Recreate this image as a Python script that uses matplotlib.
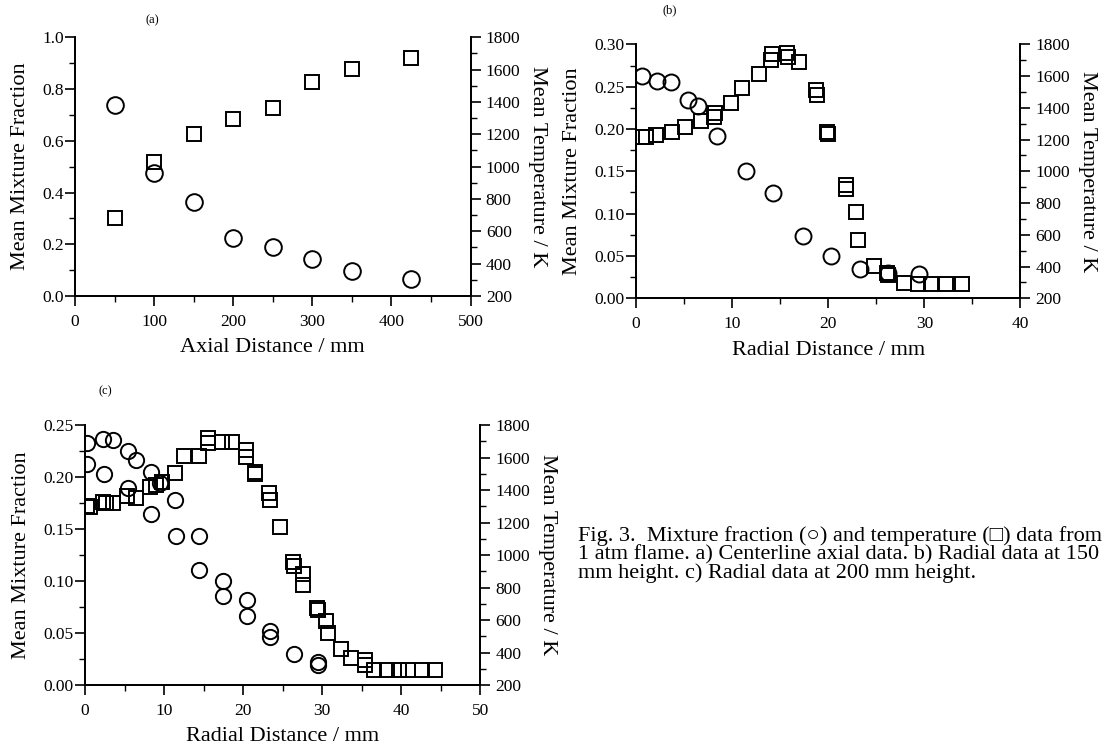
import matplotlib
matplotlib.use("Agg")
import matplotlib.pyplot as plt
from matplotlib.ticker import MultipleLocator

plt.rcParams['font.family'] = ['Liberation Serif', 'DejaVu Serif']

# (a) centerline axial data
a_x = [50, 100, 150, 200, 250, 300, 350, 425]
a_mix = [0.738, 0.474, 0.362, 0.223, 0.188, 0.144, 0.095, 0.066]
a_temp = [680, 1031, 1200, 1295, 1361, 1526, 1602, 1674]

# (b) radial data at 150 mm
b_mix_x = [0.6, 2.2, 3.6, 5.4, 6.5, 8.4, 11.4, 14.3, 17.4, 20.3, 23.3, 26.2, 29.4]
b_mix = [0.263, 0.257, 0.256, 0.234, 0.227, 0.192, 0.150, 0.124, 0.074, 0.050, 0.035, 0.030, 0.029]
b_temp_x = [0.6, 1.0, 2.1, 3.7, 5.1, 6.8, 8.1, 8.2, 9.9, 11.0, 12.8, 14.0, 14.1, 15.7, 15.8,
            17.0, 18.7, 18.8, 19.9, 20.0, 21.8, 21.9, 22.9, 23.1, 24.8, 26.1, 26.2, 27.9,
            29.3, 30.7, 32.3, 33.9]
b_temp = [1214, 1214, 1229, 1250, 1277, 1319, 1340, 1370, 1432, 1523, 1613, 1701, 1737, 1743, 1720,
          1691, 1512, 1481, 1250, 1235, 917, 886, 742, 569, 405, 362, 348, 299,
          291, 291, 291, 291]

# (c) radial data at 200 mm
c_mix_x = [0.3, 0.3, 2.3, 2.4, 3.5, 5.4, 5.4, 6.5, 8.4, 8.4, 9.5, 11.4, 11.5, 14.4, 14.4,
           17.5, 17.5, 20.5, 20.5, 23.4, 23.4, 26.4, 29.5, 29.5]
c_mix = [0.233, 0.213, 0.237, 0.203, 0.236, 0.225, 0.189, 0.216, 0.205, 0.164, 0.194, 0.178, 0.143,
         0.143, 0.111, 0.100, 0.086, 0.082, 0.066, 0.052, 0.046, 0.030, 0.022, 0.019]
c_temp_x = [0.3, 0.6, 2.3, 2.7, 3.6, 5.3, 6.5, 8.2, 9.0, 9.7, 11.4, 12.5, 14.4, 15.6, 15.6,
            17.3, 18.6, 20.3, 20.3, 21.5, 21.5, 23.3, 23.4, 24.6, 26.3, 26.4, 27.6, 27.6,
            29.3, 29.5, 30.5, 30.7, 32.4, 33.6, 35.4, 35.4, 36.5, 38.2, 39.7, 40.9, 42.6, 44.3]
c_temp = [1301, 1295, 1328, 1322, 1318, 1363, 1349, 1420, 1431, 1451, 1507, 1609, 1609, 1718, 1687,
          1697, 1697, 1646, 1605, 1513, 1500, 1379, 1338, 1172, 959, 932, 883, 815,
          672, 662, 596, 518, 419, 364, 354, 323, 292, 292, 292, 292, 292, 292]

caption = ["Fig. 3.  Mixture fraction (\u25CB) and temperature (\u25A1) data from",
           "1 atm flame. a) Centerline axial data. b) Radial data at 150",
           "mm height. c) Radial data at 200 mm height."]

fig = plt.figure(figsize=(11.08, 7.49), dpi=100)


def panel(rect, xs, ys, xt, yt, xmax, xmajor, ymax, ymajor, xlabel, label, label_xy, ms):
    ax = fig.add_axes(rect)
    ax2 = ax.twinx()
    ax.plot(xs, ys, 'o', ms=ms[0], mfc='none', mec='black', mew=1.4)
    ax2.plot(xt, yt, 's', ms=ms[1], mfc='none', mec='black', mew=1.4)
    ax.set_xlim(0, xmax)
    ax.set_ylim(0, ymax)
    ax2.set_ylim(200, 1800)
    ax.xaxis.set_major_locator(MultipleLocator(xmajor))
    ax.xaxis.set_minor_locator(MultipleLocator(xmajor / 2))
    ax.yaxis.set_major_locator(MultipleLocator(ymajor))
    ax.yaxis.set_minor_locator(MultipleLocator(ymajor / 2))
    ax2.yaxis.set_major_locator(MultipleLocator(200))
    ax2.yaxis.set_minor_locator(MultipleLocator(100))
    for a in (ax, ax2):
        a.spines['top'].set_visible(False)
        for s in a.spines.values():
            s.set_linewidth(1.3)
        a.tick_params(which='major', direction='out', length=7, width=1.2, labelsize=12.5)
        a.tick_params(which='minor', direction='out', length=4, width=1.0)
    ax.tick_params(axis='x', which='major', pad=6)
    ax.tick_params(axis='y', which='major', pad=1)
    ax2.tick_params(axis='y', which='major', pad=4)
    ax.set_xlabel(xlabel, fontsize=16, labelpad=6)
    ax.set_ylabel('Mean Mixture Fraction', fontsize=16, labelpad=9)
    ax2.set_ylabel('Mean Temperature / K', fontsize=16, rotation=270, labelpad=19)
    fig.text(label_xy[0], label_xy[1], label, fontsize=9, ha='center', va='center')
    return ax


panel([0.0677, 0.6048, 0.3570, 0.3454], a_x, a_mix, a_x, a_temp, 500, 100, 1.0, 0.2,
      'Axial Distance / mm', '(a)', (152 / 1108, 1 - 20 / 749), (12, 10.5))
panel([0.5740, 0.6017, 0.3470, 0.3391], b_mix_x, b_mix, b_temp_x, b_temp, 40, 10, 0.30, 0.05,
      'Radial Distance / mm', '(b)', (670 / 1108, 1 - 10 / 749), (11.5, 10.5))
panel([0.0767, 0.0854, 0.3569, 0.3471], c_mix_x, c_mix, c_temp_x, c_temp, 50, 10, 0.25, 0.05,
      'Radial Distance / mm', '(c)', (105 / 1108, 1 - 391 / 749), (11, 10.5))

for i, line in enumerate(caption):
    fig.text(578 / 1108, 1 - (541 + 18.5 * i) / 749, line, fontsize=16,
             ha='left', va='baseline')

fig.savefig('out.png', dpi=100)
